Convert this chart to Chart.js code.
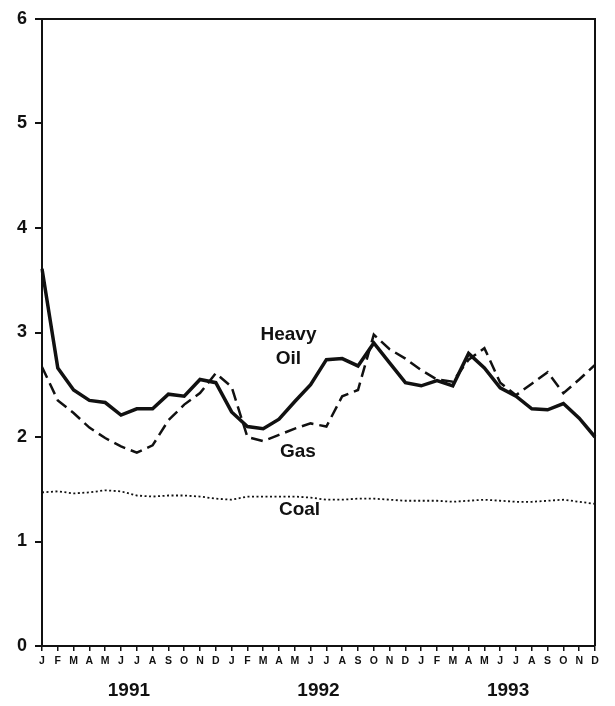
<!DOCTYPE html>
<html>
<head>
<meta charset="utf-8">
<script src="https://cdn.jsdelivr.net/npm/chart.js@4/dist/chart.umd.min.js"></script>
<style>
  html, body { margin: 0; padding: 0; background: #fff; }
  canvas { display: block; }
</style>
</head>
<body>
<canvas id="chart" width="615" height="706"></canvas>
<script>
// month tick labels, Jan 1991 .. Dec 1993
var months = ["J", "F", "M", "A", "M", "J", "J", "A", "S", "O", "N", "D",
              "J", "F", "M", "A", "M", "J", "J", "A", "S", "O", "N", "D",
              "J", "F", "M", "A", "M", "J", "J", "A", "S", "O", "N", "D"];
var years = ["1991", "1992", "1993"];
var yTicks = [0, 1, 2, 3, 4, 5, 6];

var heavyOil = [3.61, 2.66, 2.45, 2.35, 2.33, 2.21, 2.27, 2.27, 2.41, 2.39, 2.55, 2.52,
                2.24, 2.10, 2.08, 2.17, 2.34, 2.50, 2.74, 2.75, 2.68, 2.90, 2.71, 2.52,
                2.49, 2.54, 2.49, 2.80, 2.66, 2.47, 2.39, 2.27, 2.26, 2.32, 2.18, 2.00];
var gas = [2.67, 2.35, 2.23, 2.09, 1.99, 1.91, 1.85, 1.92, 2.16, 2.31, 2.42, 2.61,
           2.48, 2.00, 1.96, 2.02, 2.08, 2.13, 2.10, 2.39, 2.45, 2.98, 2.84, 2.75,
           2.64, 2.55, 2.53, 2.74, 2.85, 2.52, 2.40, 2.51, 2.62, 2.42, 2.55, 2.69];
var coal = [1.47, 1.48, 1.46, 1.47, 1.49, 1.48, 1.44, 1.43, 1.44, 1.44, 1.43, 1.41,
            1.40, 1.43, 1.43, 1.43, 1.43, 1.42, 1.40, 1.40, 1.41, 1.41, 1.40, 1.39,
            1.39, 1.39, 1.38, 1.39, 1.40, 1.39, 1.38, 1.38, 1.39, 1.40, 1.38, 1.36];

// series name labels written inside the plot: [text lines, month index, value]
var seriesLabels = [
  [["Heavy", "Oil"], 15.6, 2.98],
  [["Gas"], 16.2, 1.86],
  [["Coal"], 16.3, 1.30]
];

var FONT = "'Liberation Sans', Arial, Helvetica, sans-serif";
var INK = "#111";

// frame (top + right edge), year captions and series names
var decorations = {
  id: "decorations",
  afterDraw: function (chart) {
    var ctx = chart.ctx;
    var area = chart.chartArea;
    var x = chart.scales.x;
    var y = chart.scales.y;

    ctx.save();
    ctx.strokeStyle = INK;
    ctx.lineWidth = 2;
    ctx.beginPath();
    ctx.moveTo(area.left, area.top);
    ctx.lineTo(area.right, area.top);
    ctx.lineTo(area.right, area.bottom);
    ctx.stroke();

    ctx.fillStyle = INK;
    ctx.textAlign = "center";
    ctx.textBaseline = "middle";

    ctx.font = "bold 19px " + FONT;
    years.forEach(function (yr, i) {
      var cx = (x.getPixelForValue(i * 12) + x.getPixelForValue(i * 12 + 11)) / 2;
      ctx.fillText(yr, cx, area.bottom + 45);
    });

    ctx.font = "bold 19px " + FONT;
    seriesLabels.forEach(function (lab) {
      var px = x.getPixelForValue(lab[1]);
      var py = y.getPixelForValue(lab[2]);
      lab[0].forEach(function (line, k) {
        ctx.fillText(line, px, py + k * 24);
      });
    });
    ctx.restore();
  }
};

new Chart(document.getElementById("chart"), {
  type: "line",
  data: {
    labels: months,
    datasets: [
      { label: "Heavy Oil", data: heavyOil, borderColor: INK, borderWidth: 3.5 },
      { label: "Gas", data: gas, borderColor: INK, borderWidth: 2.5, borderDash: [12, 6] },
      { label: "Coal", data: coal, borderColor: INK, borderWidth: 1.8, borderDash: [2, 2.5] }
    ]
  },
  options: {
    responsive: false,
    animation: false,
    devicePixelRatio: 1,
    layout: { padding: { top: 19, right: 20, left: 0, bottom: 0 } },
    elements: {
      point: { radius: 0 },
      line: { tension: 0, fill: false, borderCapStyle: "butt", borderJoinStyle: "miter" }
    },
    plugins: {
      legend: { display: false },
      tooltip: { enabled: false }
    },
    scales: {
      x: {
        offset: false,
        grid: { drawOnChartArea: false, color: INK, tickLength: 5, lineWidth: 1.5 },
        border: { color: INK, width: 2 },
        ticks: {
          autoSkip: false, maxRotation: 0, padding: 4, color: INK,
          font: { family: FONT, size: 10.5, weight: "bold" }
        },
        afterFit: function (scale) { scale.height = 60; }
      },
      y: {
        min: 0,
        max: 6,
        afterBuildTicks: function (scale) {
          scale.ticks = yTicks.map(function (v) { return { value: v }; });
        },
        grid: { drawOnChartArea: false, color: INK, tickLength: 7, lineWidth: 2 },
        border: { color: INK, width: 2 },
        ticks: {
          padding: 8, color: INK,
          font: { family: FONT, size: 18, weight: "bold" }
        },
        afterFit: function (scale) { scale.width = 42; }
      }
    }
  },
  plugins: [decorations]
});
</script>
</body>
</html>
